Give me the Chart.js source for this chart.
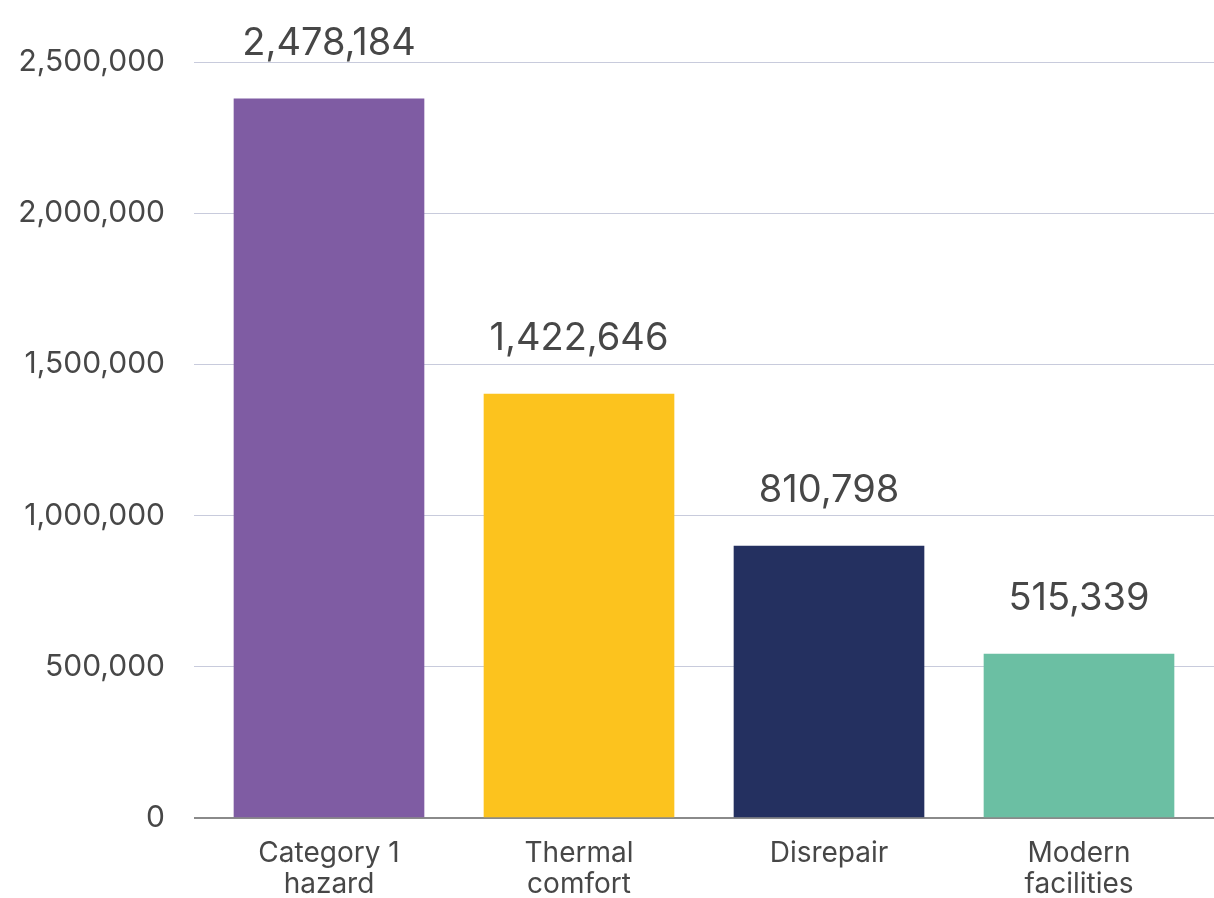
<!DOCTYPE html>
<html>
<head>
<meta charset="utf-8">
<script src="https://cdn.jsdelivr.net/npm/chart.js@4"></script>
<style>
  html, body { margin: 0; padding: 0; background: #ffffff; }
  #wrap { width: 1214px; height: 898px; position: relative; }
</style>
</head>
<body>
<div id="wrap"><canvas id="housing-chart"></canvas></div>
<script>
const categories = [["Category 1", "hazard"], ["Thermal", "comfort"], ["Disrepair"], ["Modern", "facilities"]];
const barValues = [2378000, 1402000, 899000, 542000];
const valueLabels = ["2,478,184", "1,422,646", "810,798", "515,339"];
const barColors = ["#7f5ca3", "#fcc31e", "#243060", "#6bbfa3"];
const yTicks = [0, 500000, 1000000, 1500000, 2000000, 2500000];

const fontFamily = "Inter, 'Open Sans', sans-serif";
const textColor = "#474747";

const valueLabelPlugin = {
  id: "valueLabels",
  afterDatasetsDraw(chart) {
    const { ctx } = chart;
    const bars = chart.getDatasetMeta(0).data;
    ctx.save();
    ctx.font = `38px ${fontFamily}`;
    ctx.fillStyle = textColor;
    ctx.textAlign = "center";
    ctx.textBaseline = "alphabetic";
    bars.forEach((bar, i) => {
      ctx.fillText(valueLabels[i], bar.x, bar.y - 44);
    });
    ctx.restore();
  }
};

const chart = new Chart(document.getElementById("housing-chart").getContext("2d"), {
  type: "bar",
  data: {
    datasets: [
      {
        data: barValues.map((value, i) => ({ x: i, y: value })),
        backgroundColor: barColors,
        borderWidth: 0,
        barThickness: 190
      }
    ]
  },
  plugins: [valueLabelPlugin],
  options: {
    animation: false,
    responsive: true,
    maintainAspectRatio: false,
    layout: {
      padding: { top: 62, right: 0, bottom: 0, left: 0 }
    },
    plugins: {
      legend: { display: false },
      tooltip: { enabled: false }
    },
    scales: {
      x: {
        type: "linear",
        offset: false,
        min: -0.54,
        max: 3.54,
        afterBuildTicks: (scale) => {
          scale.ticks = categories.map((c, i) => ({ value: i }));
        },
        afterFit: (scale) => {
          scale.height = 80;
        },
        ticks: {
          callback: (value) => categories[value],
          color: textColor,
          font: { family: fontFamily, size: 28, lineHeight: 1.12 },
          padding: 12,
          maxRotation: 0,
          autoSkip: false
        },
        grid: { display: false },
        border: { display: false }
      },
      y: {
        min: 0,
        max: 2500000,
        afterBuildTicks: (scale) => {
          scale.ticks = yTicks.map((value) => ({ value }));
        },
        afterFit: (scale) => {
          scale.width = 194;
        },
        ticks: {
          callback: (value) => value.toLocaleString("en-US"),
          color: textColor,
          font: { family: fontFamily, size: 30 },
          padding: 29
        },
        grid: {
          drawTicks: false,
          color: (context) => (context.tick && context.tick.value === 0 ? "#8a8a8a" : "#c8cbdc"),
          lineWidth: (context) => (context.tick && context.tick.value === 0 ? 2 : 1)
        },
        border: { display: false }
      }
    }
  }
});
</script>
</body>
</html>
